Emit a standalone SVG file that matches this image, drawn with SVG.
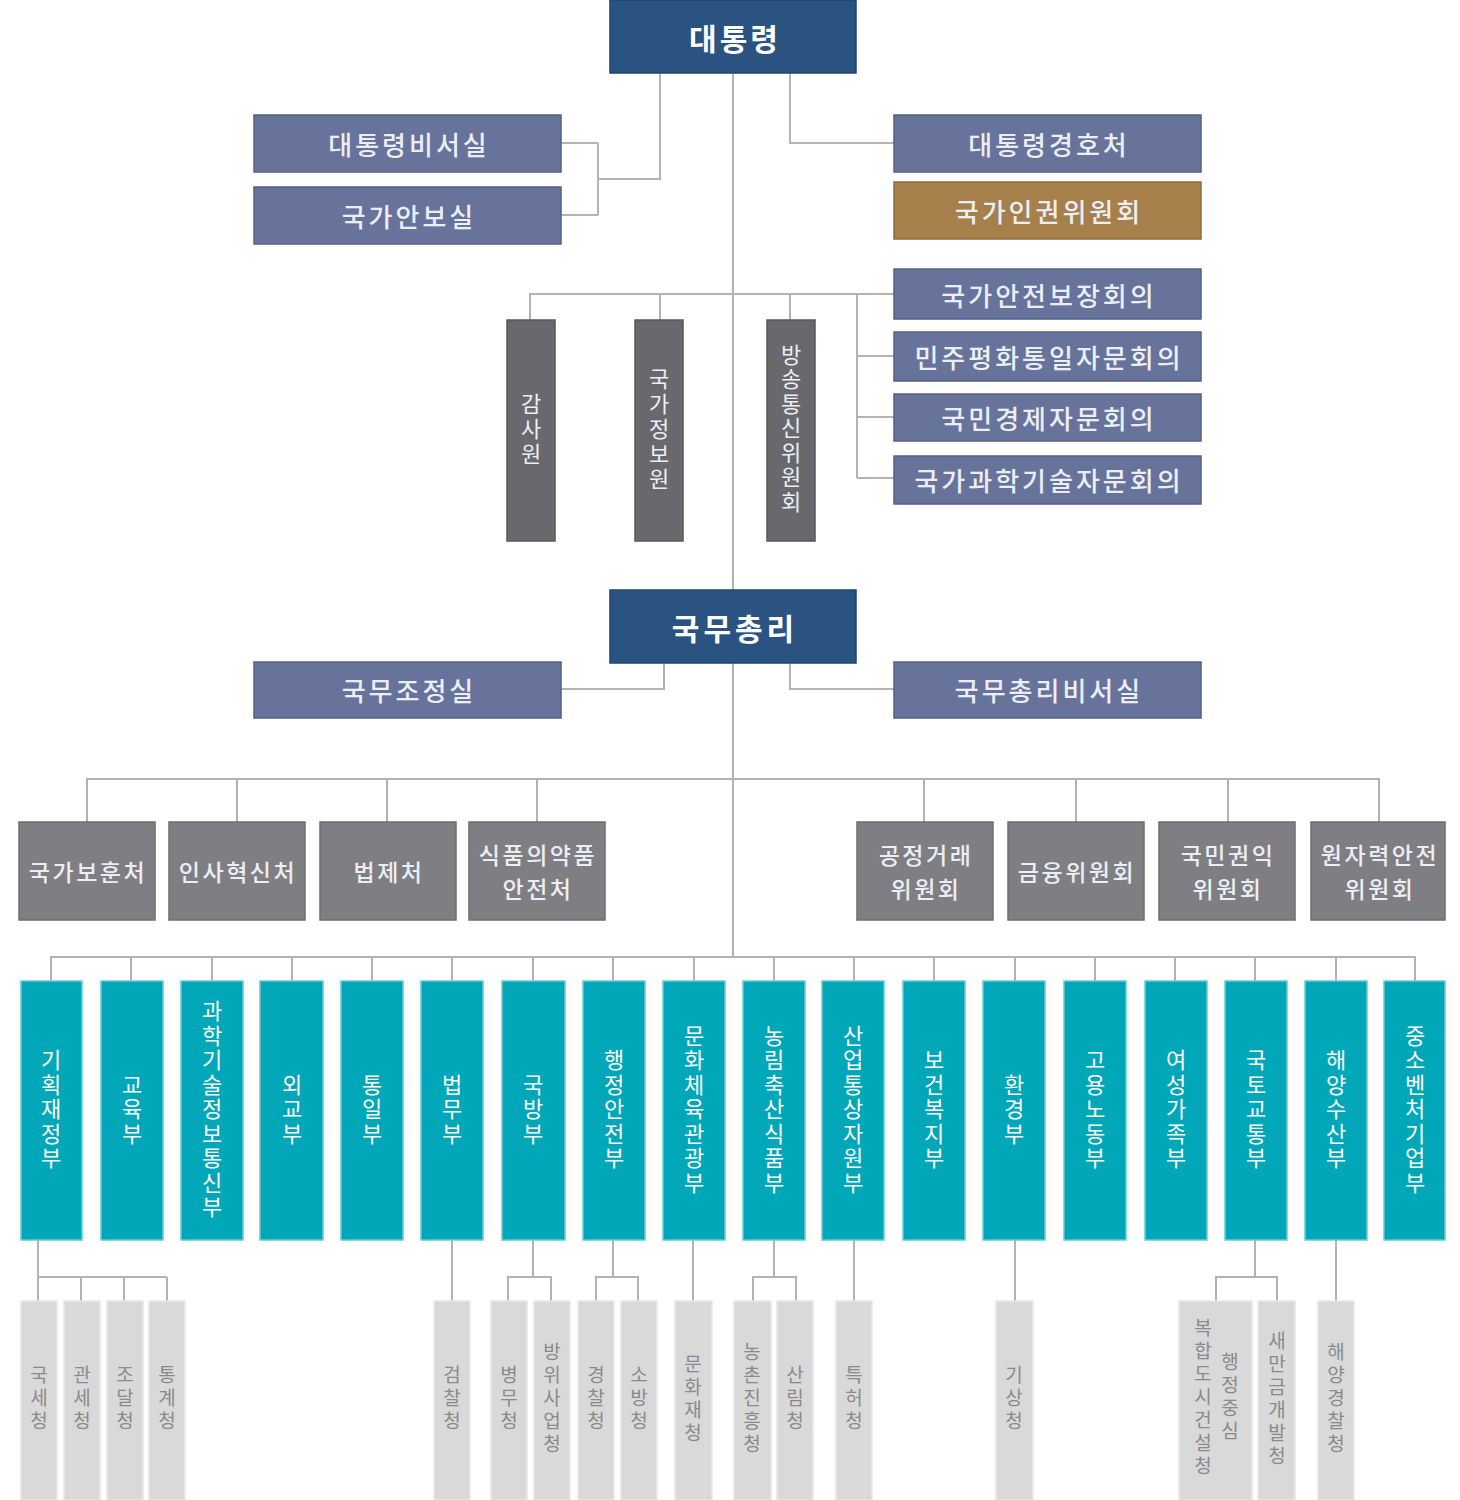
<svg xmlns="http://www.w3.org/2000/svg" width="1460" height="1500" viewBox="0 0 1460 1500">
<style>
.t{font-family:"Noto Sans CJK KR","Noto Sans",sans-serif;text-anchor:middle;dominant-baseline:central}
.h{font-weight:500}
.s26{font-size:26px;letter-spacing:3px}
.s23{font-size:23px;letter-spacing:2.5px}
.v{writing-mode:vertical-rl}
.top{fill:#2a5381;stroke:#1f4570;stroke-width:1.5}
.sec{fill:#67739b;stroke:#55608a;stroke-width:1.5}
.brn{fill:#a67f4b;stroke:#8f6c3c;stroke-width:1.5}
.dg{fill:#69696d;stroke:#58585c;stroke-width:1.5}
.mg{fill:#7f7f83;stroke:#6e6e72;stroke-width:1.5}
.tl{fill:#00a7b9;stroke:#66cbd6;stroke-width:1.5}
.lg{fill:#d9d9d9;stroke:#e8e8e8;stroke-width:1.5}
.wt{fill:#ffffff}
.lt{fill:#eceef5}
.gt{fill:#8a8a8a}
.c{fill:none;stroke:#b3b3b3;stroke-width:2}
</style>

<g id="connectors">
<path class="c" d="M733 73V590M733 663V957"/>
<path class="c" d="M660 73V179H598M598 143V215M561 143H598M561 215H598"/>
<path class="c" d="M790 73V143H894"/>
<path class="c" d="M530 320V294H894M660 294V320M790 294V320M857 294V478M857 356H894M857 417H894M857 478H894"/>
<path class="c" d="M664 663V689H561M790 663V689H894"/>
<path class="c" d="M87 822V779H1379V822M237 779V822M387 779V822M537 779V822M924 779V822M1076 779V822M1228 779V822"/>
<path class="c" d="M51 981V957H1415V981M131 957V981M212 957V981M292 957V981M372 957V981M452 957V981M533 957V981M613 957V981M694 957V981M774 957V981M854 957V981M934 957V981M1015 957V981M1095 957V981M1175 957V981M1255 957V981M1336 957V981"/>
<path class="c" d="M38 1240V1301M38 1277H167M81 1277V1301M124 1277V1301M167 1277V1301"/>
<path class="c" d="M452 1240V1301"/>
<path class="c" d="M533 1240V1277M508 1301V1277H551V1301"/>
<path class="c" d="M613 1240V1277M596 1301V1277H638V1301"/>
<path class="c" d="M693 1240V1301"/>
<path class="c" d="M774 1240V1277M753 1301V1277H796V1301"/>
<path class="c" d="M854 1240V1301"/>
<path class="c" d="M1015 1240V1301"/>
<path class="c" d="M1255 1240V1277M1216 1301V1277H1277V1301"/>
<path class="c" d="M1336 1240V1301"/>
</g>

<g id="n-president"><rect class="top" x="610" y="0" width="246" height="73"/><text class="t wt" x="735" y="37" font-size="30" font-weight="bold" letter-spacing="3">대통령</text></g>
<g id="n-secretariat"><rect class="sec" x="254" y="115" width="307" height="57"/><text class="t h s26 lt" x="409" y="143">대통령비서실</text></g>
<g id="n-nsoffice"><rect class="sec" x="254" y="187" width="307" height="57"/><text class="t h s26 lt" x="409" y="215">국가안보실</text></g>
<g id="n-security"><rect class="sec" x="894" y="115" width="307" height="57"/><text class="t h s26 lt" x="1049" y="143">대통령경호처</text></g>
<g id="n-humanrights"><rect class="brn" x="894" y="182" width="307" height="57"/><text class="t h s26 lt" x="1049" y="210">국가인권위원회</text></g>

<g id="n-nsc"><rect class="sec" x="894" y="269" width="307" height="50"/><text class="t h s26 lt" x="1049" y="294">국가안전보장회의</text></g>
<g id="n-puac"><rect class="sec" x="894" y="332" width="307" height="49"/><text class="t h s26 lt" x="1049" y="356">민주평화통일자문회의</text></g>
<g id="n-neac"><rect class="sec" x="894" y="394" width="307" height="47"/><text class="t h s26 lt" x="1049" y="417">국민경제자문회의</text></g>
<g id="n-pacst"><rect class="sec" x="894" y="456" width="307" height="48"/><text class="t h s26 lt" x="1049" y="479">국가과학기술자문회의</text></g>

<g id="n-bai"><rect class="dg" x="507" y="320" width="48" height="221"/><text class="t v lt" x="531" y="430" font-size="22" letter-spacing="3">감사원</text></g>
<g id="n-nis"><rect class="dg" x="635" y="320" width="48" height="221"/><text class="t v lt" x="659" y="430" font-size="22" letter-spacing="3">국가정보원</text></g>
<g id="n-kcc"><rect class="dg" x="767" y="320" width="48" height="221"/><text class="t v lt" x="791" y="429" font-size="22" letter-spacing="2.5">방송통신위원회</text></g>

<g id="n-pm"><rect class="top" x="610" y="590" width="246" height="73"/><text class="t wt" x="735" y="627" font-size="30" font-weight="bold" letter-spacing="4">국무총리</text></g>
<g id="n-opc"><rect class="sec" x="254" y="662" width="307" height="56"/><text class="t h s26 lt" x="409" y="689">국무조정실</text></g>
<g id="n-pmsec"><rect class="sec" x="894" y="662" width="307" height="56"/><text class="t h s26 lt" x="1049" y="689">국무총리비서실</text></g>

<g id="n-mpva"><rect class="mg" x="19" y="822" width="136" height="98"/><text class="t h s23 lt" x="88" y="871">국가보훈처</text></g>
<g id="n-mpm"><rect class="mg" x="169" y="822" width="136" height="98"/><text class="t h s23 lt" x="238" y="871">인사혁신처</text></g>
<g id="n-moleg"><rect class="mg" x="320" y="822" width="136" height="98"/><text class="t h s23 lt" x="389" y="871">법제처</text></g>
<g id="n-mfds"><rect class="mg" x="469" y="822" width="136" height="98"/><text class="t h s23 lt" x="538" y="854">식품의약품</text><text class="t h s23 lt" x="538" y="888">안전처</text></g>
<g id="n-ftc"><rect class="mg" x="857" y="822" width="136" height="98"/><text class="t h s23 lt" x="926" y="854">공정거래</text><text class="t h s23 lt" x="926" y="888">위원회</text></g>
<g id="n-fsc"><rect class="mg" x="1008" y="822" width="136" height="98"/><text class="t h s23 lt" x="1077" y="871">금융위원회</text></g>
<g id="n-acrc"><rect class="mg" x="1159" y="822" width="136" height="98"/><text class="t h s23 lt" x="1228" y="854">국민권익</text><text class="t h s23 lt" x="1228" y="888">위원회</text></g>
<g id="n-nssc"><rect class="mg" x="1311" y="822" width="134" height="98"/><text class="t h s23 lt" x="1380" y="854">원자력안전</text><text class="t h s23 lt" x="1380" y="888">위원회</text></g>

<g id="n-m01"><rect class="tl" x="21" y="981" width="61" height="259"/><text class="t v wt" x="51" y="1110" font-size="22" letter-spacing="2.5">기획재정부</text></g>
<g id="n-m02"><rect class="tl" x="101" y="981" width="62" height="259"/><text class="t v wt" x="132" y="1110" font-size="22" letter-spacing="2.5">교육부</text></g>
<g id="n-m03"><rect class="tl" x="181" y="981" width="62" height="259"/><text class="t v wt" x="212" y="1110" font-size="22" letter-spacing="2.5">과학기술정보통신부</text></g>
<g id="n-m04"><rect class="tl" x="260" y="981" width="63" height="259"/><text class="t v wt" x="292" y="1110" font-size="22" letter-spacing="2.5">외교부</text></g>
<g id="n-m05"><rect class="tl" x="341" y="981" width="62" height="259"/><text class="t v wt" x="372" y="1110" font-size="22" letter-spacing="2.5">통일부</text></g>
<g id="n-m06"><rect class="tl" x="421" y="981" width="62" height="259"/><text class="t v wt" x="452" y="1110" font-size="22" letter-spacing="2.5">법무부</text></g>
<g id="n-m07"><rect class="tl" x="502" y="981" width="63" height="259"/><text class="t v wt" x="533" y="1110" font-size="22" letter-spacing="2.5">국방부</text></g>
<g id="n-m08"><rect class="tl" x="583" y="981" width="62" height="259"/><text class="t v wt" x="614" y="1110" font-size="22" letter-spacing="2.5">행정안전부</text></g>
<g id="n-m09"><rect class="tl" x="663" y="981" width="62" height="259"/><text class="t v wt" x="694" y="1110" font-size="22" letter-spacing="2.5">문화체육관광부</text></g>
<g id="n-m10"><rect class="tl" x="743" y="981" width="62" height="259"/><text class="t v wt" x="774" y="1110" font-size="22" letter-spacing="2.5">농림축산식품부</text></g>
<g id="n-m11"><rect class="tl" x="822" y="981" width="62" height="259"/><text class="t v wt" x="853" y="1110" font-size="22" letter-spacing="2.5">산업통상자원부</text></g>
<g id="n-m12"><rect class="tl" x="903" y="981" width="62" height="259"/><text class="t v wt" x="934" y="1110" font-size="22" letter-spacing="2.5">보건복지부</text></g>
<g id="n-m13"><rect class="tl" x="983" y="981" width="62" height="259"/><text class="t v wt" x="1014" y="1110" font-size="22" letter-spacing="2.5">환경부</text></g>
<g id="n-m14"><rect class="tl" x="1064" y="981" width="62" height="259"/><text class="t v wt" x="1095" y="1110" font-size="22" letter-spacing="2.5">고용노동부</text></g>
<g id="n-m15"><rect class="tl" x="1145" y="981" width="62" height="259"/><text class="t v wt" x="1176" y="1110" font-size="22" letter-spacing="2.5">여성가족부</text></g>
<g id="n-m16"><rect class="tl" x="1225" y="981" width="62" height="259"/><text class="t v wt" x="1256" y="1110" font-size="22" letter-spacing="2.5">국토교통부</text></g>
<g id="n-m17"><rect class="tl" x="1305" y="981" width="62" height="259"/><text class="t v wt" x="1336" y="1110" font-size="22" letter-spacing="2.5">해양수산부</text></g>
<g id="n-m18"><rect class="tl" x="1384" y="981" width="61" height="259"/><text class="t v wt" x="1415" y="1110" font-size="22" letter-spacing="2.5">중소벤처기업부</text></g>

<g id="n-a01"><rect class="lg" x="21" y="1301" width="36" height="199"/><text class="t v gt" x="39" y="1400" font-size="19" letter-spacing="4">국세청</text></g>
<g id="n-a02"><rect class="lg" x="64" y="1301" width="36" height="199"/><text class="t v gt" x="82" y="1400" font-size="19" letter-spacing="4">관세청</text></g>
<g id="n-a03"><rect class="lg" x="107" y="1301" width="36" height="199"/><text class="t v gt" x="125" y="1400" font-size="19" letter-spacing="4">조달청</text></g>
<g id="n-a04"><rect class="lg" x="149" y="1301" width="36" height="199"/><text class="t v gt" x="167" y="1400" font-size="19" letter-spacing="4">통계청</text></g>
<g id="n-a05"><rect class="lg" x="434" y="1301" width="36" height="199"/><text class="t v gt" x="452" y="1400" font-size="19" letter-spacing="4">검찰청</text></g>
<g id="n-a06"><rect class="lg" x="491" y="1301" width="36" height="199"/><text class="t v gt" x="509" y="1400" font-size="19" letter-spacing="4">병무청</text></g>
<g id="n-a07"><rect class="lg" x="534" y="1301" width="36" height="199"/><text class="t v gt" x="552" y="1400" font-size="19" letter-spacing="4">방위사업청</text></g>
<g id="n-a08"><rect class="lg" x="578" y="1301" width="36" height="199"/><text class="t v gt" x="596" y="1400" font-size="19" letter-spacing="4">경찰청</text></g>
<g id="n-a09"><rect class="lg" x="621" y="1301" width="36" height="199"/><text class="t v gt" x="639" y="1400" font-size="19" letter-spacing="4">소방청</text></g>
<g id="n-a10"><rect class="lg" x="675" y="1301" width="37" height="199"/><text class="t v gt" x="693" y="1400" font-size="19" letter-spacing="4">문화재청</text></g>
<g id="n-a11"><rect class="lg" x="734" y="1301" width="37" height="199"/><text class="t v gt" x="752" y="1400" font-size="19" letter-spacing="4">농촌진흥청</text></g>
<g id="n-a12"><rect class="lg" x="777" y="1301" width="36" height="199"/><text class="t v gt" x="795" y="1400" font-size="19" letter-spacing="4">산림청</text></g>
<g id="n-a13"><rect class="lg" x="836" y="1301" width="36" height="199"/><text class="t v gt" x="854" y="1400" font-size="19" letter-spacing="4">특허청</text></g>
<g id="n-a14"><rect class="lg" x="996" y="1301" width="37" height="199"/><text class="t v gt" x="1014" y="1400" font-size="19" letter-spacing="4">기상청</text></g>
<g id="n-a15"><rect class="lg" x="1179" y="1301" width="73" height="199"/><text class="t v gt" x="1230" y="1398" font-size="19" letter-spacing="4">행정중심</text><text class="t v gt" x="1203" y="1399" font-size="19" letter-spacing="4">복합도시건설청</text></g>
<g id="n-a16"><rect class="lg" x="1258" y="1301" width="37" height="199"/><text class="t v gt" x="1277" y="1400" font-size="19" letter-spacing="4">새만금개발청</text></g>
<g id="n-a17"><rect class="lg" x="1318" y="1301" width="36" height="199"/><text class="t v gt" x="1336" y="1400" font-size="19" letter-spacing="4">해양경찰청</text></g>
</svg>
